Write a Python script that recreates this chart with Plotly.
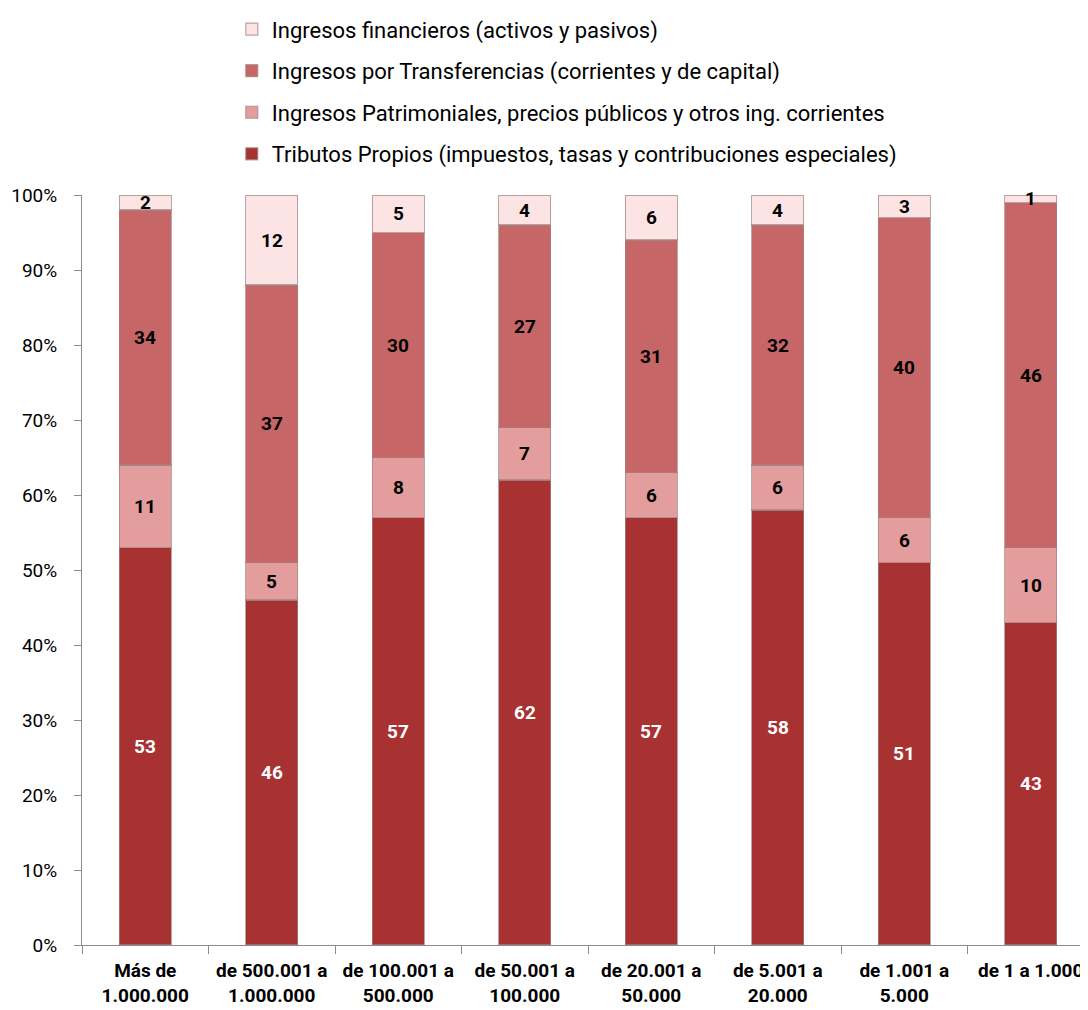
import plotly.graph_objects as go

categories = ["Más de<br>1.000.000", "de 500.001 a<br>1.000.000", "de 100.001 a<br>500.000",
              "de 50.001 a<br>100.000", "de 20.001 a<br>50.000", "de 5.001 a<br>20.000",
              "de 1.001 a<br>5.000", "de 1 a 1.000"]

tributos = [53, 46, 57, 62, 57, 58, 51, 43]
patrimoniales = [11, 5, 8, 7, 6, 6, 6, 10]
transferencias = [34, 37, 30, 27, 31, 32, 40, 46]
financieros = [2, 12, 5, 4, 6, 4, 3, 1]

series = [
    ("Tributos Propios (impuestos, tasas y contribuciones especiales)", tributos, "#A83131", "white", 4),
    ("Ingresos Patrimoniales, precios públicos y otros ing. corrientes", patrimoniales, "#E39D9D", "black", 3),
    ("Ingresos por Transferencias (corrientes y de capital)", transferencias, "#C76666", "black", 2),
    ("Ingresos financieros (activos y pasivos)", financieros, "#FCE4E4", "black", 1),
]

FONT = "Roboto, Liberation Sans, sans-serif"

fig = go.Figure()
base = [0] * len(categories)
annotations = []
for name, vals, color, tcolor, rank in series:
    fig.add_trace(go.Bar(
        x=categories, y=vals, name=name,
        marker=dict(color=color, line=dict(color="rgba(160,130,130,0.7)", width=1.2)),
        legendrank=rank, legendgroup=name,
        width=0.41,
        hoverinfo="name+y",
    ))
    for c, b, v in zip(categories, base, vals):
        annotations.append(dict(
            x=c, y=b + v / 2, xref="x", yref="y", text=str(v), showarrow=False,
            font=dict(family=FONT, size=19, color=tcolor, weight="bold"),
        ))
    base = [b + v for b, v in zip(base, vals)]

fig.update_layout(
    barmode="stack",
    width=1088, height=1010,
    margin=dict(l=74, r=2, t=187, b=73, autoexpand=False),
    paper_bgcolor="white", plot_bgcolor="white",
    font=dict(family=FONT, size=19, color="black"),
    showlegend=True,
    annotations=annotations,
    legend=dict(x=0.148, y=1.249, xanchor="left", yanchor="top",
                traceorder="grouped", tracegroupgap=10,
                font=dict(family=FONT, size=22, color="black")),
    yaxis=dict(range=[0, 100], tickvals=list(range(0, 101, 10)),
               ticktext=[f"{v}%" for v in range(0, 101, 10)],
               showgrid=False, zeroline=False, showline=True, linecolor="#8c8c8c",
               ticks="outside", ticklen=7, tickcolor="#8c8c8c", ticklabelstandoff=13,
               tickfont=dict(family=FONT, size=19), automargin=False),
    xaxis=dict(showline=True, linecolor="#8c8c8c", ticks="outside", tickson="boundaries",
               ticklen=8, tickcolor="#8c8c8c", showgrid=False, tickangle=0,
               ticklabelstandoff=8,
               tickfont=dict(family=FONT, size=19, weight="bold"), automargin=False,
               range=[-0.5, 7.5]),
)

fig.write_html("out.html")
